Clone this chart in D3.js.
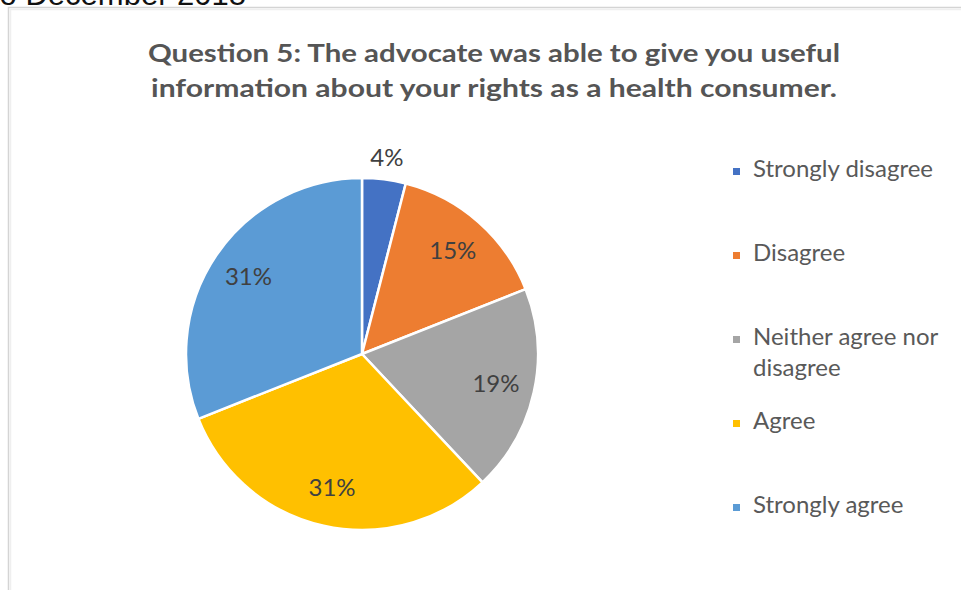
<!DOCTYPE html>
<html>
<head>
<meta charset="utf-8">
<script src="https://cdn.jsdelivr.net/npm/d3@7"></script>
<style>
  html, body { margin: 0; padding: 0; background: #ffffff; }
  svg { display: block; }
</style>
</head>
<body>
<svg id="chart" width="961" height="590"></svg>
<script>
// Survey responses for question 5
const categories = ["Strongly disagree", "Disagree", "Neither agree nor disagree", "Agree", "Strongly agree"];
const legendLines = [["Strongly disagree"], ["Disagree"], ["Neither agree nor", "disagree"], ["Agree"], ["Strongly agree"]];
const percents = [4, 15, 19, 31, 31];
const colors = ["#4472C4", "#ED7D31", "#A5A5A5", "#FFC000", "#5B9BD5"];
const titleLines = [
  "Question 5: The advocate was able to give you useful",
  "information about your rights as a health consumer."
];
const headerText = "to December 2018";

const svg = d3.select("#chart");
const W = 961, H = 590;
const font = "Lato, 'Open Sans', sans-serif";

// Page heading running off the top edge
svg.append("text")
  .attr("x", -9).attr("y", 5)
  .attr("font-family", "'Liberation Sans', Arial, sans-serif")
  .attr("font-size", 31)
  .attr("fill", "#111")
  .text(headerText);

// Chart frame (left and top edges visible)
svg.append("path")
  .attr("d", `M8.5,${H} V7.5 H${W}`)
  .attr("fill", "none")
  .attr("stroke", "#d4d4d4")
  .attr("stroke-width", 1.5);
svg.append("path")
  .attr("d", `M10.5,${H} V9.5 H${W}`)
  .attr("fill", "none")
  .attr("stroke", "#efefef")
  .attr("stroke-width", 1.5);

// Title
const titleWidths = [692, 686];
svg.append("g").selectAll("text")
  .data(titleLines)
  .join("text")
  .attr("x", 494)
  .attr("y", (d, i) => 62 + i * 35)
  .attr("text-anchor", "middle")
  .attr("font-family", font)
  .attr("font-weight", 700)
  .attr("font-size", 25)
  .attr("fill", "#555555")
  .attr("textLength", (d, i) => titleWidths[i])
  .attr("lengthAdjust", "spacingAndGlyphs")
  .text(d => d);

// Pie
const cx = 362, cy = 354, radius = 176;
const pie = d3.pie().sort(null).value(d => d);
const arcs = pie(percents);
const arc = d3.arc().innerRadius(0).outerRadius(radius);
const color = d3.scaleOrdinal().domain(categories).range(colors);

const g = svg.append("g").attr("transform", `translate(${cx},${cy})`);
g.selectAll("path")
  .data(arcs)
  .join("path")
  .attr("d", arc)
  .attr("fill", (d, i) => color(categories[i]))
  .attr("stroke", "#ffffff")
  .attr("stroke-width", 2.5)
  .attr("stroke-linejoin", "round");

// Data labels: inside for larger slices, just outside for small ones
const inner = d3.arc().innerRadius(radius * 0.78).outerRadius(radius * 0.78);
const outer = d3.arc().innerRadius(radius + 22).outerRadius(radius + 22);
g.selectAll("text")
  .data(arcs)
  .join("text")
  .attr("transform", d => `translate(${(d.data < 5 ? outer : inner).centroid(d)})`)
  .attr("text-anchor", "middle")
  .attr("dy", "0.35em")
  .attr("font-family", font)
  .attr("font-size", 24)
  .attr("fill", "#404040")
  .text(d => d.data + "%");

// Legend
const legend = svg.append("g");
const item = legend.selectAll("g")
  .data(categories)
  .join("g")
  .attr("transform", (d, i) => `translate(733, ${177 + i * 84})`);
item.append("rect")
  .attr("x", 0).attr("y", -9)
  .attr("width", 7).attr("height", 7)
  .attr("fill", d => color(d));
item.append("text")
  .attr("font-family", font)
  .attr("font-size", 24)
  .attr("fill", "#595959")
  .selectAll("tspan")
  .data((d, i) => legendLines[i])
  .join("tspan")
  .attr("x", 20)
  .attr("y", (d, j) => j * 31)
  .text(d => d);
</script>
</body>
</html>
